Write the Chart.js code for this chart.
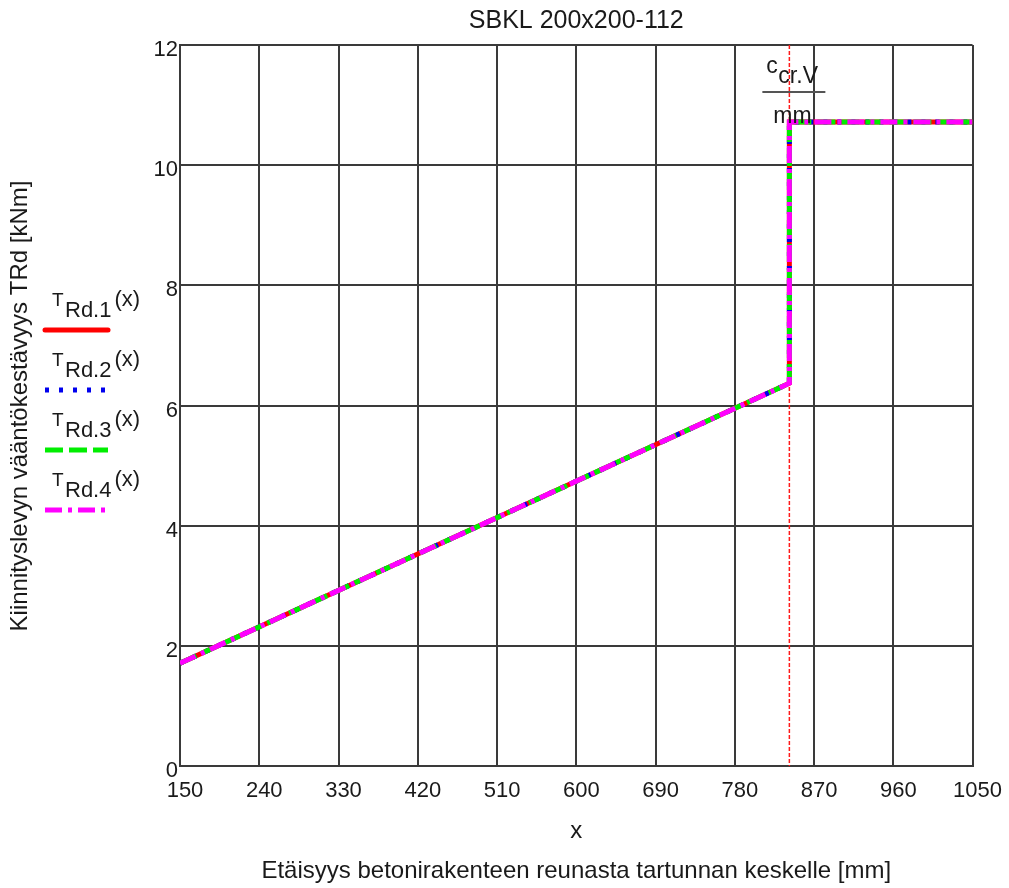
<!DOCTYPE html>
<html>
<head>
<meta charset="utf-8">
<script src="https://cdn.jsdelivr.net/npm/chart.js@4/dist/chart.umd.min.js"></script>
<style>
  html, body { margin: 0; padding: 0; background: #fff; }
  #wrap { width: 1009px; height: 888px; position: relative; }
</style>
</head>
<body>
<div id="wrap"><canvas id="chart"></canvas></div>
<script>
// ── Data ──────────────────────────────────────────────────
const xValues = [150, 842, 842, 1050];
const tRd1 = [1.71, 6.37, 10.72, 10.72];
const tRd2 = [1.71, 6.37, 10.72, 10.72];
const tRd3 = [1.71, 6.37, 10.72, 10.72];
const tRd4 = [1.71, 6.37, 10.72, 10.72];
const ccrV = 842;

const xTicks = [150, 240, 330, 420, 510, 600, 690, 780, 870, 960, 1050];
const yTicks = [0, 2, 4, 6, 8, 10, 12];

const legendSubs = ['Rd.1', 'Rd.2', 'Rd.3', 'Rd.4'];
const seriesColors = ['#ff0000', '#0000ee', '#00ee00', '#ff00ff'];
const seriesDash = [[], [4, 10], [18, 6], [17, 6, 4, 6]];

const FONT = "'Liberation Sans', Arial, sans-serif";
const TXT = '#1a1a1a';
const GRID = '#3a3a3a';

const pts = (ys) => xValues.map((x, i) => ({ x, y: ys[i] }));

// ── Extra text: title, axis titles, left legend, c_cr.V marker ──
const decor = {
  id: 'decor',
  beforeDatasetsDraw(chart) {
    const { ctx, chartArea, scales } = chart;
    const px = scales.x.getPixelForValue(ccrV);
    ctx.save();
    ctx.strokeStyle = '#ff1a1a';
    ctx.lineWidth = 1.5;
    ctx.setLineDash([4, 2]);
    ctx.beginPath();
    ctx.moveTo(px, chartArea.top);
    ctx.lineTo(px, chartArea.bottom);
    ctx.stroke();
    ctx.restore();
  },
  afterDraw(chart) {
    const { ctx, chartArea, scales } = chart;
    const cx = (chartArea.left + chartArea.right) / 2;
    ctx.save();
    ctx.fillStyle = TXT;

    // title
    ctx.textAlign = 'center';
    ctx.textBaseline = 'alphabetic';
    ctx.font = '25px ' + FONT;
    ctx.fillText('SBKL 200x200-112', cx, 28);

    // x axis titles
    ctx.textBaseline = 'middle';
    ctx.font = '24px ' + FONT;
    ctx.fillText('x', cx, 831);
    ctx.fillText('Etäisyys betonirakenteen reunasta tartunnan keskelle [mm]', cx, 871);

    // y axis title
    ctx.save();
    ctx.translate(20, 406);
    ctx.rotate(-Math.PI / 2);
    ctx.fillText('Kiinnityslevyn vääntökestävyys TRd [kNm]', 0, 0);
    ctx.restore();

    // legend
    ctx.textAlign = 'left';
    ctx.textBaseline = 'alphabetic';
    legendSubs.forEach((sub, i) => {
      const ly = 330 + i * 60;
      ctx.fillStyle = TXT;
      ctx.font = '19px ' + FONT;
      ctx.fillText('T', 52, ly - 24);
      ctx.font = '22px ' + FONT;
      ctx.fillText(sub, 65, ly - 13);
      const w = ctx.measureText(sub).width;
      ctx.fillText('(x)', 65 + w + 3, ly - 24);
      ctx.strokeStyle = seriesColors[i];
      ctx.lineWidth = 5;
      ctx.lineCap = i === 0 ? 'round' : 'butt';
      ctx.setLineDash(seriesDash[i]);
      ctx.beginPath();
      ctx.moveTo(45, ly);
      ctx.lineTo(108, ly);
      ctx.stroke();
      ctx.setLineDash([]);
    });

    // c_cr.V / mm marker
    const px = scales.x.getPixelForValue(ccrV);
    ctx.fillStyle = TXT;
    ctx.font = '23px ' + FONT;
    ctx.fillText('c', px - 23, 73);
    ctx.fillText('cr.V', px - 11, 83);
    ctx.strokeStyle = '#555';
    ctx.lineWidth = 2;
    ctx.beginPath();
    ctx.moveTo(px - 27, 92);
    ctx.lineTo(px + 36, 92);
    ctx.stroke();
    ctx.fillText('mm', px - 16, 123);
    ctx.restore();
  }
};

const mk = (label, ys, i, order) => ({
  label,
  data: pts(ys),
  borderColor: seriesColors[i],
  borderWidth: 5,
  borderDash: seriesDash[i],
  pointRadius: 0,
  fill: false,
  tension: 0,
  order,
});

new Chart(document.getElementById('chart').getContext('2d'), {
  type: 'line',
  data: {
    datasets: [
      mk('TRd.1(x)', tRd1, 0, 4),
      mk('TRd.2(x)', tRd2, 1, 3),
      mk('TRd.3(x)', tRd3, 2, 2),
      mk('TRd.4(x)', tRd4, 3, 1),
    ],
  },
  options: {
    responsive: true,
    maintainAspectRatio: false,
    animation: false,
    layout: { padding: { top: 45, right: 36, left: 0, bottom: 0 } },
    plugins: {
      legend: { display: false },
      tooltip: { enabled: false },
      title: { display: false },
    },
    scales: {
      x: {
        type: 'linear',
        min: 150,
        max: 1050,
        afterBuildTicks: (s) => { s.ticks = xTicks.map(v => ({ value: v })); },
        afterFit: (s) => { s.height = 122; },
        grid: { color: GRID, lineWidth: 2, drawTicks: false },
        border: { color: GRID, width: 2 },
        ticks: {
          color: TXT, font: { family: FONT, size: 22 }, padding: 12, maxRotation: 0,
          labelOffset: 5, callback: (v) => String(v),
        },
      },
      y: {
        min: 0,
        max: 12,
        afterBuildTicks: (s) => { s.ticks = yTicks.map(v => ({ value: v })); },
        afterFit: (s) => { s.width = 180; },
        grid: { color: GRID, lineWidth: 2, drawTicks: false },
        border: { color: GRID, width: 2 },
        ticks: {
          color: TXT, font: { family: FONT, size: 22 }, padding: 2,
          labelOffset: 5, callback: (v) => String(v),
        },
      },
    },
  },
  plugins: [decor],
});
</script>
</body>
</html>
